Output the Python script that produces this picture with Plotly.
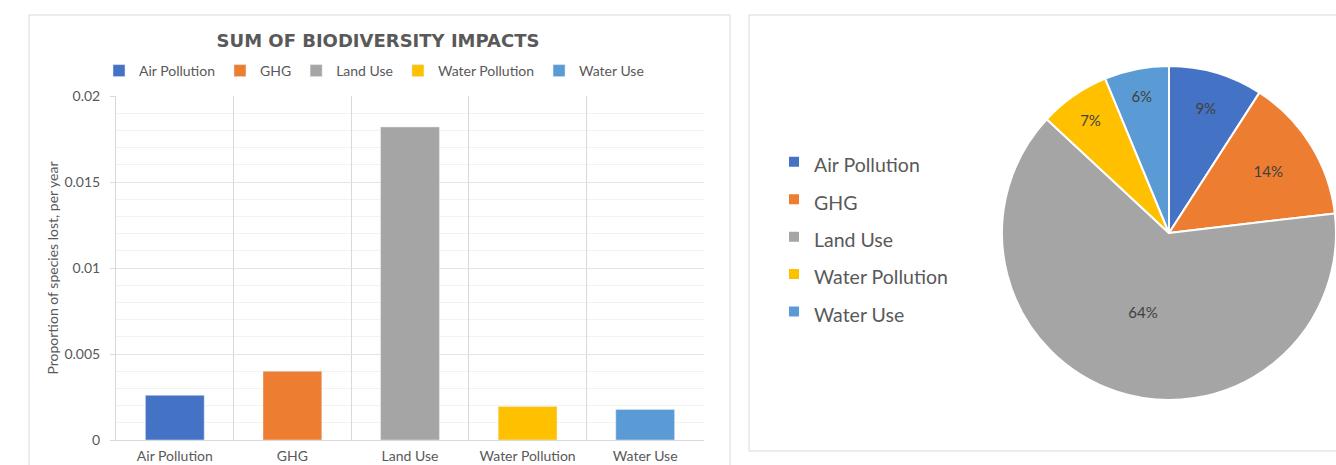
import plotly.graph_objects as go

# ---- data ----
categories = ["Air Pollution", "GHG", "Land Use", "Water Pollution", "Water Use"]
impacts = [0.0026, 0.0040, 0.0182, 0.00195, 0.00178]
colors = ["#4472C4", "#ED7D31", "#A5A5A5", "#FFC000", "#5B9BD5"]
y_ticks = [0, 0.005, 0.01, 0.015, 0.02]

W, H = 1336, 465
def px(x): return x / W
def py(y): return 1 - y / H

FONT = "Lato"
GREY = "#595959"

fig = go.Figure()

for cat, val, col in zip(categories, impacts, colors):
    fig.add_trace(go.Bar(
        x=[cat], y=[val], name=cat, marker_color=col, width=0.5,
        legend="legend", xaxis="x", yaxis="y", hoverinfo="x+y",
    ))

# pie legend labels rendered at 19.5px while the legend line height uses a larger font
pie_labels = [f'<span style="font-size:19.5px">{c}</span>' for c in categories]

fig.add_trace(go.Pie(
    labels=pie_labels, values=impacts, sort=False, direction="clockwise",
    rotation=0, marker=dict(colors=colors, line=dict(color="white", width=2)),
    texttemplate="%{percent:.0%}", textposition="inside",
    insidetextorientation="horizontal",
    textfont=dict(family=FONT, size=15, color="#404040"),
    domain=dict(x=[px(1002), 1.0], y=[py(401), py(65)]),
    legend="legend2",
))

fig.update_layout(
    width=W, height=H, margin=dict(l=0, r=0, t=0, b=0),
    paper_bgcolor="white", plot_bgcolor="white",
    font=dict(family=FONT, color=GREY, size=14),
    barmode="overlay",
    title=dict(text="SUM OF BIODIVERSITY IMPACTS", x=px(378), xanchor="center",
               y=py(41), yanchor="middle", automargin=False,
               font=dict(family="DejaVu Sans", size=18, color=GREY, weight=700)),
    xaxis=dict(domain=[px(116), px(704)], type="category", tickson="boundaries",
               showgrid=True, gridcolor="#D9D9D9", showline=True, linecolor="#D9D9D9",
               ticks="", tickfont=dict(size=14, color=GREY), ticklabelstandoff=3,
               automargin=False, fixedrange=True),
    yaxis=dict(domain=[py(440), py(96)], range=[0, 0.02], tickvals=y_ticks,
               ticktext=[f"{v:g}" for v in y_ticks],
               showgrid=True, gridcolor="#E4E4E4", zeroline=False,
               showline=True, linecolor="#D9D9D9", ticks="outside", ticklen=5,
               tickcolor="#D9D9D9", tickfont=dict(size=14, color=GREY),
               ticklabelstandoff=7, automargin=False, fixedrange=True,
               minor=dict(dtick=0.001, showgrid=True, gridcolor="#F2F2F2", ticks=""),
               title=dict(text="Proportion of species lost, per year",
                          font=dict(size=14, color=GREY), standoff=2)),
    legend=dict(orientation="h", x=px(374), xanchor="center", y=py(71), yanchor="middle",
                font=dict(size=14, color=GREY), bgcolor="rgba(0,0,0,0)",
                itemclick=False, itemdoubleclick=False),
    legend2=dict(orientation="v", x=px(774), xanchor="left", y=py(237), yanchor="middle",
                 font=dict(size=26.5, color=GREY), bgcolor="rgba(0,0,0,0)",
                 itemclick=False, itemdoubleclick=False),
    shapes=[
        dict(type="rect", xref="paper", yref="paper", x0=px(29), x1=px(730),
             y0=py(490), y1=py(15), line=dict(color="#D9D9D9", width=1), layer="below"),
        dict(type="rect", xref="paper", yref="paper", x0=px(749), x1=px(1350),
             y0=py(451), y1=py(15), line=dict(color="#D9D9D9", width=1), layer="below"),
    ],
)

fig.write_html("out.html", config={"displayModeBar": False},
               post_script="document.body.style.margin='0';")
